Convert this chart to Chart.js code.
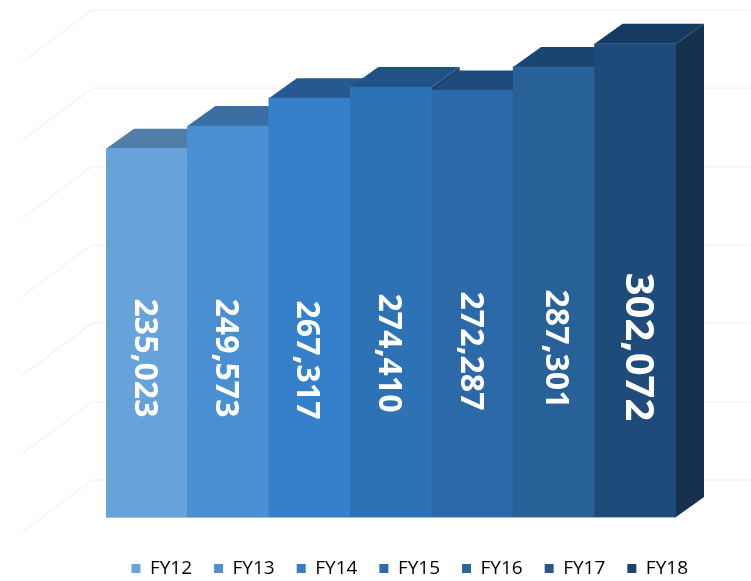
<!DOCTYPE html>
<html>
<head>
<meta charset="utf-8">
<title>FY12 - FY18</title>
<script src="https://cdn.jsdelivr.net/npm/chart.js@4"></script>
<style>
  html, body { margin: 0; padding: 0; background: #fff; overflow: hidden; }
  #page { width: 751px; height: 581px; overflow: hidden; }
  canvas { display: block; filter: blur(0.6px); }
</style>
</head>
<body>
<div id="page"><canvas id="chBar" width="751" height="588"></canvas></div>
<script>
// data
const years = ['FY12', 'FY13', 'FY14', 'FY15', 'FY16', 'FY17', 'FY18'];
const amounts = [235023, 249573, 267317, 274410, 272287, 287301, 302072];
const gridValues = [0, 50000, 100000, 150000, 200000, 250000, 300000];

// colours for each bar
const frontColors = ['#67a3da', '#4a8fd2', '#3680cb', '#2e72b6', '#2b69a8', '#276197', '#1f4b7b'];
const topColors = ['#4f7ea9', '#3a6fa6', '#25598f', '#205285', '#1c4b7c', '#1a4570', '#163a60'];
const sideColors = ['#3f6a92', '#2f5c8c', '#1f4c7c', '#1a4570', '#173f69', '#16395f', '#15314f'];
const legendColors = ['#6ca4d6', '#4f8fce', '#3a7cc4', '#2e6cb0', '#2b65a0', '#265a8c', '#1c4268'];

// label tweaks, the labels do not sit exactly in the middle in the original
const labelShiftX = [-3, -3, -3, -3, -2, 1, 2];
const labelCenterY = [358, 358, 360, 353, 351, 349, 347];

const depthX = 28;
const depthY = 20;

const wallPlugin = {
    id: 'wall',
    beforeDatasetsDraw(chart) {
        const ctx = chart.ctx;
        const y = chart.scales.y;
        ctx.save();
        ctx.strokeStyle = '#f4f4f4';
        ctx.lineWidth = 1.5;
        gridValues.forEach(function(v) {
            const py = y.getPixelForValue(v) - 37;
            ctx.beginPath();
            ctx.moveTo(22, py + 52);
            ctx.lineTo(92, py);
            ctx.lineTo(751, py);
            ctx.stroke();
        });
        // side and top of each bar, left to right
        chart.getDatasetMeta(0).data.forEach(function(bar, i) {
            const x0 = bar.x - bar.width / 2;
            const x1 = bar.x + bar.width / 2;
            ctx.fillStyle = sideColors[i];
            ctx.beginPath();
            ctx.moveTo(x1, bar.y);
            ctx.lineTo(x1 + depthX, bar.y - depthY);
            ctx.lineTo(x1 + depthX, bar.base - depthY);
            ctx.lineTo(x1, bar.base);
            ctx.closePath();
            ctx.fill();
            ctx.fillStyle = topColors[i];
            ctx.beginPath();
            ctx.moveTo(x0, bar.y);
            ctx.lineTo(x0 + depthX, bar.y - depthY);
            ctx.lineTo(x1 + depthX, bar.y - depthY);
            ctx.lineTo(x1, bar.y);
            ctx.closePath();
            ctx.fill();
        });
        ctx.restore();
    },
    afterDatasetsDraw(chart) {
        const ctx = chart.ctx;
        ctx.save();
        // light edge under the front of the bars
        ctx.strokeStyle = 'rgba(120, 160, 200, 0.7)';
        ctx.lineWidth = 1;
        ctx.beginPath();
        ctx.moveTo(chart.chartArea.left, chart.chartArea.bottom + 0.5);
        ctx.lineTo(chart.chartArea.right, chart.chartArea.bottom + 0.5);
        ctx.stroke();
        ctx.fillStyle = '#ffffff';
        ctx.textAlign = 'center';
        ctx.textBaseline = 'middle';
        chart.getDatasetMeta(0).data.forEach(function(bar, i) {
            const last = i === amounts.length - 1;
            ctx.save();
            ctx.translate(bar.x + labelShiftX[i], labelCenterY[i]);
            ctx.rotate(Math.PI / 2);
            ctx.font = 'bold ' + (last ? 40 : 32) + 'px "Open Sans"';
            ctx.fillText(amounts[i].toLocaleString('en-US'), 0, 0);
            ctx.restore();
        });
        ctx.restore();
    }
};

new Chart(document.getElementById('chBar'), {
    type: 'bar',
    data: {
        labels: years,
        datasets: [{
            label: 'Total',
            data: amounts,
            backgroundColor: frontColors,
            barPercentage: 1,
            categoryPercentage: 1
        }]
    },
    options: {
        responsive: false,
        animation: false,
        devicePixelRatio: 1,
        layout: { padding: { left: 106, right: 41, top: 0, bottom: 0 } },
        scales: {
            x: {
                grid: { display: false },
                border: { display: false },
                ticks: { display: false },
                afterFit(scale) { scale.height = 20; }
            },
            y: {
                position: 'right',
                min: 0,
                max: 330000,
                grid: { display: false },
                border: { display: false },
                ticks: { display: false },
                afterFit(scale) { scale.width = 34; }
            }
        },
        plugins: {
            tooltip: { enabled: false },
            legend: {
                position: 'bottom',
                align: 'end',
                labels: {
                    boxWidth: 9,
                    boxHeight: 9,
                    padding: 22,
                    color: '#8a8a8a',
                    font: { family: '"Open Sans"', size: 19 },
                    generateLabels() {
                        return years.map(function(name, i) {
                            return { text: name, fillStyle: legendColors[i], strokeStyle: legendColors[i], lineWidth: 0, index: i };
                        });
                    }
                }
            }
        }
    },
    plugins: [wallPlugin]
});
</script>
</body>
</html>
